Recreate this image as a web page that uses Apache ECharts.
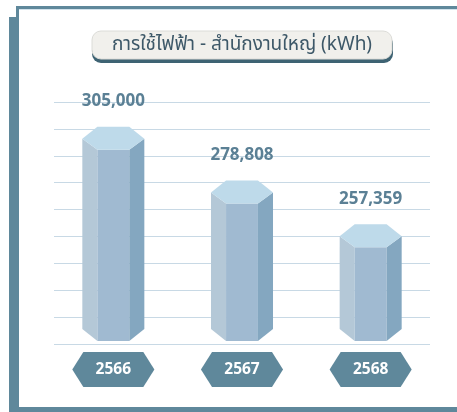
<!DOCTYPE html>
<html>
<head>
<meta charset="utf-8">
<script src="https://cdn.jsdelivr.net/npm/echarts@6/dist/echarts.min.js"></script>
<style>
  html, body { margin: 0; padding: 0; background: #ffffff; }
  #chart { width: 457px; height: 412px; }
</style>
</head>
<body>
<div id="chart"></div>
<script>
// Yearly electricity use at head office (kWh)
const categories = ['2566', '2567', '2568'];
const usage = [305000, 278808, 257359];

// value range of the bar axis
const AXIS_MIN = 212000;
const AXIS_MAX = 324000;

const FRAME = '#5f889b';
const FONT = '"Noto Sans Thai", "Noto Sans", "Open Sans", sans-serif';

function renderPrism(params, api) {
  const idx = api.value(0);
  const top = api.coord([idx, api.value(1)]);
  const base = api.coord([idx, AXIS_MIN]);
  const band = api.size([1, 0])[0];
  const cx = top[0], yt = top[1], yb = base[1];
  const W = band * 0.241;     // half width of hexagon
  const w = band * 0.124;     // half width of front face
  const back = 12, front = 11, bf = 12;

  const children = [
    { type: 'polygon', shape: { points: [[cx - W, yt], [cx - w, yt + front], [cx - w, yb + bf], [cx - W, yb]] },
      style: { fill: '#b4c8d7' } },
    { type: 'polygon', shape: { points: [[cx - w, yt + front], [cx + w, yt + front], [cx + w, yb + bf], [cx - w, yb + bf]] },
      style: { fill: '#a0bad1' } },
    { type: 'polygon', shape: { points: [[cx + w, yt + front], [cx + W, yt], [cx + W, yb], [cx + w, yb + bf]] },
      style: { fill: '#84a7c0' } },
    { type: 'polygon', shape: { points: [[cx - W, yt], [cx - w, yt - back], [cx + w, yt - back], [cx + W, yt], [cx + w, yt + front], [cx - w, yt + front]] },
      style: { fill: '#bedaea' } },
    { type: 'text', style: { text: api.value(1).toLocaleString('en-US'), x: cx, y: yt - 36,
        align: 'center', verticalAlign: 'middle', fill: '#5b8095',
        font: 'bold 17px ' + FONT } }
  ];

  // year badge under the bar
  const c = yb + 40.5, bw = band * 0.319, bi = band * 0.233, bh = 17.5;
  children.push(
    { type: 'polygon', shape: { points: [[cx - bw, c], [cx - bi, c - bh], [cx + bi, c - bh], [cx + bw, c], [cx + bi, c + bh], [cx - bi, c + bh]] },
      style: { fill: FRAME } },
    { type: 'text', style: { text: categories[idx], x: cx, y: c + 1, align: 'center', verticalAlign: 'middle',
        fill: '#ffffff', font: 'bold 15.5px ' + FONT } }
  );
  return { type: 'group', children: children };
}

const chart = echarts.init(document.getElementById('chart'), null, { renderer: 'canvas' });

chart.setOption({
  backgroundColor: '#ffffff',
  animation: false,
  grid: [
    { left: 49, right: 22, top: 100, bottom: 83 },
    { left: 54, right: 27, top: 102, bottom: 68 }
  ],
  xAxis: [
    { type: 'category', gridIndex: 0, data: categories, show: false },
    { type: 'value', gridIndex: 1, min: 0, max: 1, show: false }
  ],
  yAxis: [
    { type: 'value', gridIndex: 0, min: AXIS_MIN, max: AXIS_MAX, show: false },
    { type: 'value', gridIndex: 1, min: 0, max: 9, interval: 1,
      axisLine: { show: false }, axisTick: { show: false }, axisLabel: { show: false },
      splitLine: { show: true, lineStyle: { color: '#c8d9e5', width: 1 } } }
  ],
  graphic: [
    // panel with offset shadow
    { type: 'rect', z: -10, silent: true, shape: { x: 9, y: 17, width: 460, height: 410 }, style: { fill: FRAME } },
    { type: 'rect', z: -9, silent: true, shape: { x: 17.5, y: 7.5, width: 460, height: 401 },
      style: { fill: '#ffffff', stroke: FRAME, lineWidth: 3 } },
    { type: 'line', z: -8, silent: true, shape: { x1: 19, y1: 9.5, x2: 457, y2: 9.5 },
      style: { stroke: '#d3e3ec', lineWidth: 1 } },
    // title pill
    { type: 'rect', z: 5, silent: true, shape: { x: 92, y: 35, width: 301, height: 28, r: 9 },
      style: { fill: '#3e6373' } },
    { type: 'rect', z: 6, silent: true, shape: { x: 92, y: 31, width: 300, height: 28, r: 9 },
      style: { fill: '#f1f0ec', stroke: '#dcdcd8', lineWidth: 1 } },
    { type: 'text', z: 7, silent: true, style: { text: 'การใช้ไฟฟ้า - สำนักงานใหญ่ (kWh)', x: 242, y: 46,
        align: 'center', verticalAlign: 'middle', fill: '#3d5868', font: '19px ' + FONT } }
  ],
  series: [
    {
      type: 'custom',
      xAxisIndex: 0,
      yAxisIndex: 0,
      renderItem: renderPrism,
      clip: false,
      data: usage.map((v, i) => [i, v])
    }
  ]
});
</script>
</body>
</html>
